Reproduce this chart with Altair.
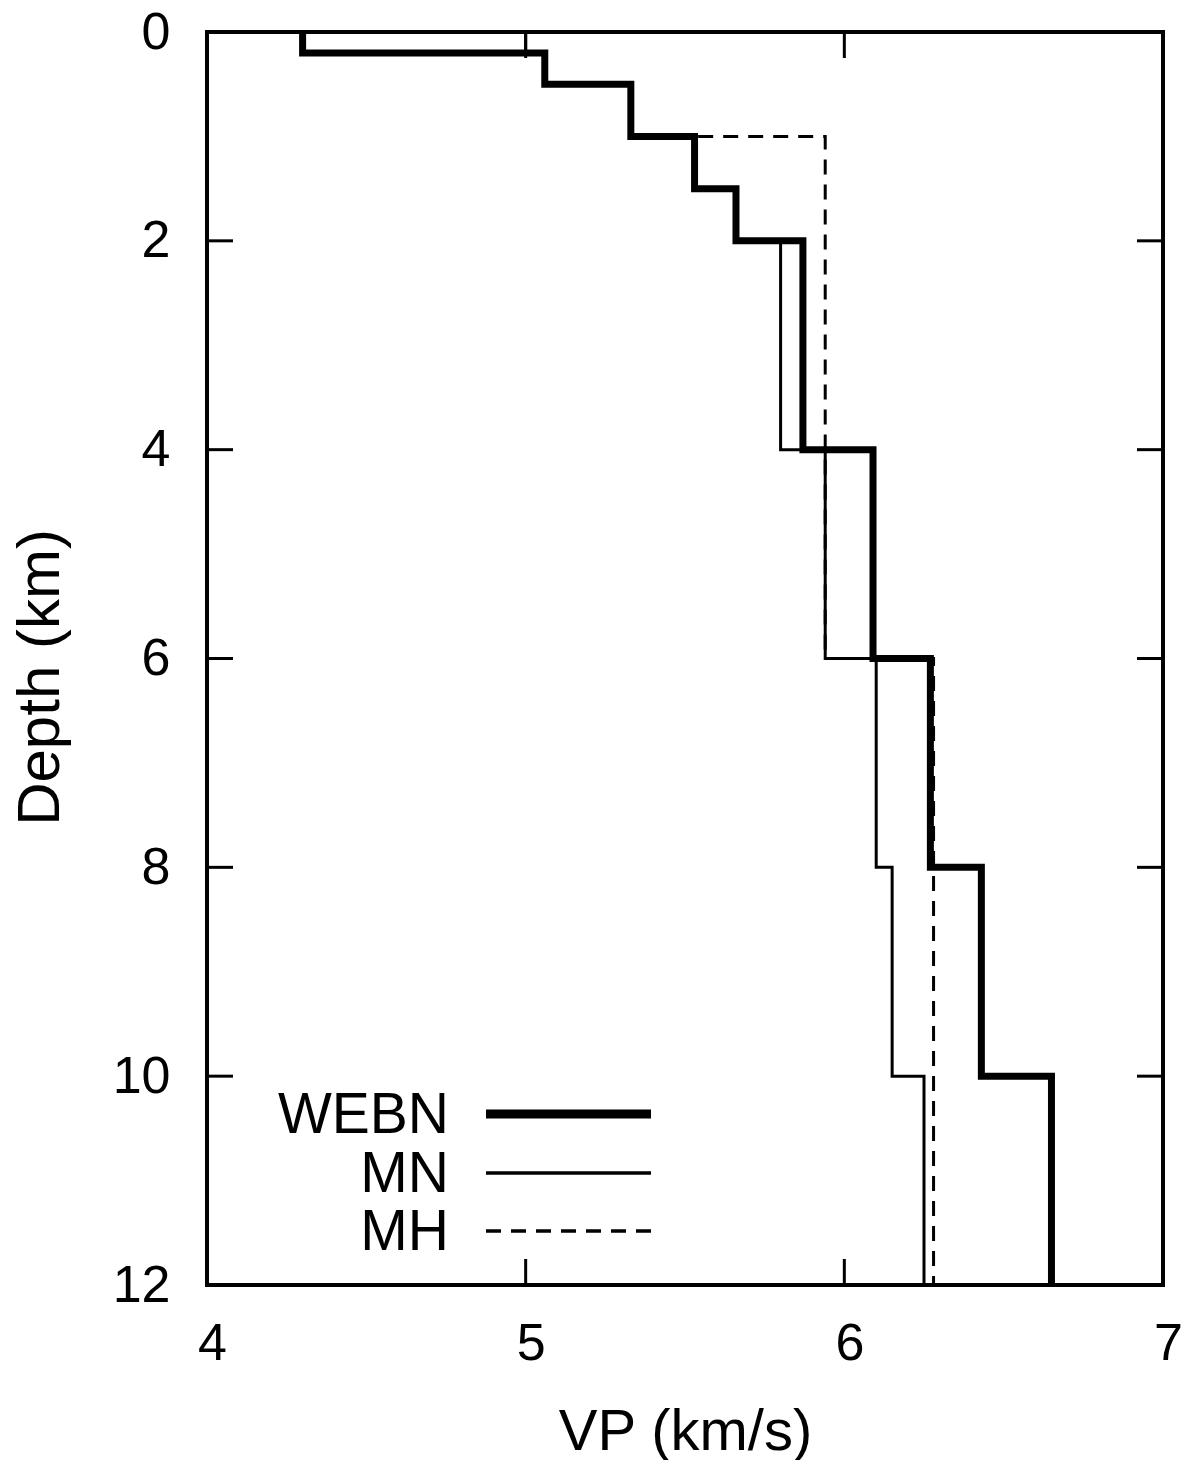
import altair as alt
import pandas as pd

# ---- data (layer top, bottom in km; Vp in km/s) ----
webn_top = [0.0, 0.2, 0.5, 1.0, 1.5, 2.0, 4.0, 6.0, 8.0, 10.0]
webn_bot = [0.2, 0.5, 1.0, 1.5, 2.0, 4.0, 6.0, 8.0, 10.0, 12.0]
webn_vp = [4.30, 5.06, 5.33, 5.53, 5.66, 5.87, 6.09, 6.27, 6.43, 6.65]

mn_top = [0.0, 0.2, 0.5, 1.0, 1.5, 2.0, 4.0, 6.0, 8.0, 10.0]
mn_bot = [0.2, 0.5, 1.0, 1.5, 2.0, 4.0, 6.0, 8.0, 10.0, 12.0]
mn_vp = [5.00, 5.06, 5.33, 5.53, 5.66, 5.80, 5.94, 6.10, 6.15, 6.25]

mh_top = [0.0, 0.2, 0.5, 1.0, 6.0]
mh_bot = [0.2, 0.5, 1.0, 6.0, 12.0]
mh_vp = [4.30, 5.06, 5.33, 5.94, 6.28]

series_names = ["WEBN", "MN", "MH"]
y_ticks = [0, 2, 4, 6, 8, 10, 12]
x_ticks = [4, 5, 6, 7]

W, H = 956, 1253
FONT = "Liberation Sans"
TICK_LEN = 26


def steps(tops, bots, vps):
    rows = []
    i = 0
    for t, b, v in zip(tops, bots, vps):
        rows.append({"vp": v, "depth": t, "i": i})
        i += 1
        rows.append({"vp": v, "depth": b, "i": i})
        i += 1
    return pd.DataFrame(rows)


def xenc():
    return alt.X(
        "vp:Q",
        scale=alt.Scale(domain=[4, 7], nice=False, zero=False),
        axis=alt.Axis(
            title="VP (km/s)", values=x_ticks, format="d", grid=False,
            domain=False, ticks=False, tickSize=0,
            labelFont=FONT, labelFontSize=52, labelColor="black",
            labelPadding=33, labelOffset=5, labelFlush=False,
            labelOverlap=False, labelBound=False,
            titleFont=FONT, titleFontSize=58, titleFontWeight="normal",
            titleColor="black", titleY=164, titleBaseline="alphabetic",
        ),
    )


def yenc():
    return alt.Y(
        "depth:Q",
        scale=alt.Scale(domain=[0, 12], nice=False, zero=False, reverse=True),
        axis=alt.Axis(
            title="Depth (km)", values=y_ticks, format="d", grid=False,
            domain=False, ticks=False, tickSize=0,
            labelFont=FONT, labelFontSize=52, labelColor="black",
            labelPadding=37, labelFlush=False, labelOverlap=False,
            labelBound=False,
            titleFont=FONT, titleFontSize=60, titleFontWeight="normal",
            titleColor="black", titleX=-149, titleY=645,
            titleBaseline="alphabetic", titleAngle=-90,
        ),
    )


styles = {
    "WEBN": dict(strokeWidth=7),
    "MN": dict(strokeWidth=3),
    "MH": dict(strokeWidth=3, strokeDash=[15, 10]),
}
legend_widths = {"WEBN": 9, "MN": 3.5, "MH": 3.5}

data = {
    "WEBN": steps(webn_top, webn_bot, webn_vp),
    "MN": steps(mn_top, mn_bot, mn_vp),
    "MH": steps(mh_top, mh_bot, mh_vp),
}

layers = []
for name in ["MH", "MN", "WEBN"]:
    layers.append(
        alt.Chart(data[name]).mark_line(color="black", strokeJoin="miter",
                                        strokeCap="butt", clip=True,
                                        **styles[name])
        .encode(x=xenc(), y=yenc(), order="i:Q")
    )

# inward ticks on all four sides (mirrored)
ydf = pd.DataFrame({"depth": y_ticks})
xdf = pd.DataFrame({"vp": x_ticks})
layers.append(alt.Chart(ydf).mark_rule(color="black", strokeWidth=3)
              .encode(y=yenc(), x=alt.value(0), x2=alt.value(TICK_LEN)))
layers.append(alt.Chart(ydf).mark_rule(color="black", strokeWidth=3)
              .encode(y=yenc(), x=alt.value(W - TICK_LEN), x2=alt.value(W)))
layers.append(alt.Chart(xdf).mark_rule(color="black", strokeWidth=3)
              .encode(x=xenc(), y=alt.value(H - TICK_LEN), y2=alt.value(H)))
layers.append(alt.Chart(xdf).mark_rule(color="black", strokeWidth=3)
              .encode(x=xenc(), y=alt.value(0), y2=alt.value(TICK_LEN)))

# key (inside, lower left)
row_y = [1082, 1141, 1199]
for k, name in enumerate(series_names):
    layers.append(
        alt.Chart(pd.DataFrame({"label": [name]})).mark_text(
            align="right", baseline="middle", font=FONT, fontSize=57,
            color="black", dy=2,
        ).encode(x=alt.value(242), y=alt.value(row_y[k]), text="label:N")
    )
    rule_kw = dict(color="black", strokeWidth=legend_widths[name])
    if "strokeDash" in styles[name]:
        rule_kw["strokeDash"] = styles[name]["strokeDash"]
    layers.append(
        alt.Chart(pd.DataFrame({"label": [name]})).mark_rule(**rule_kw)
        .encode(x=alt.value(279), x2=alt.value(444), y=alt.value(row_y[k]))
    )

chart = (
    alt.layer(*layers)
    .properties(
        width=W, height=H,
        autosize=alt.AutoSizeParams(type="none"),
        padding={"left": 199, "top": 24, "right": 19, "bottom": 175},
        background="white",
    )
    .configure_view(stroke="black", strokeWidth=4)
)

chart.save("out.html", embed_options={"renderer": "svg", "actions": False})
